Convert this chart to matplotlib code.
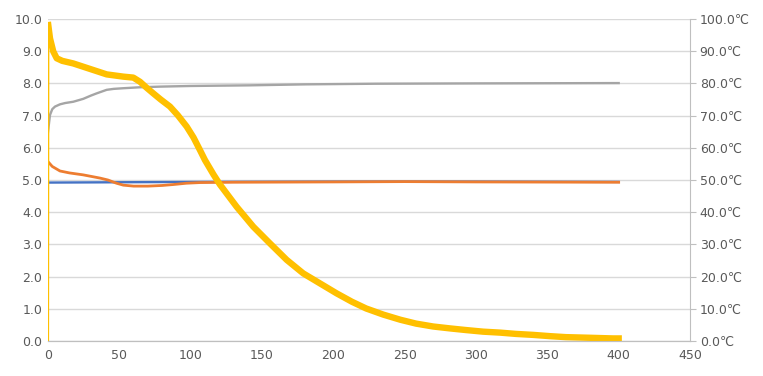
import matplotlib
matplotlib.use("Agg")
import matplotlib.pyplot as plt

# series
blue_x = [0, 50, 100, 200, 300, 400]
blue_y = [4.92, 4.93, 4.94, 4.95, 4.95, 4.94]

orange_x = [0, 3, 8.4, 15, 24.6, 36.4, 42, 48, 52.8, 60, 70, 80, 88, 97, 106.5, 130, 200, 250, 300, 400]
orange_y = [5.57, 5.42, 5.28, 5.22, 5.16, 5.06, 5.0, 4.9, 4.84, 4.81, 4.81, 4.83, 4.86, 4.9, 4.92, 4.93, 4.94, 4.95, 4.94, 4.93]

# gray series is the temperature (right axis, degC)
gray_x = [0, 1.4, 3, 4.9, 8.4, 12, 17.7, 24.7, 30, 34.1, 41.1, 46, 52.8, 64.5, 78.5, 100, 141.5, 180, 230, 300, 400]
gray_c = [65.0, 70.2, 72.0, 72.8, 73.5, 73.9, 74.3, 75.2, 76.2, 76.9, 78.0, 78.3, 78.5, 78.8, 79.0, 79.2, 79.4, 79.7, 79.9, 80.0, 80.1]

yellow_x = [0, 0.2, 1.4, 3.7, 6.1, 10, 17.7, 29.4, 41.1, 52.8, 59.8, 64.5, 69, 73.8, 79, 85.5, 91, 97.2, 102, 106.5,
            110, 116, 120.5, 132.2, 143.9, 155.6, 167.3, 178.9, 190.6, 202.3, 213, 223, 235, 247, 258, 270, 282,
            293, 305, 317, 328, 340, 352, 363, 380, 396, 400]
yellow_y = [0, 9.81, 9.4, 8.99, 8.78, 8.7, 8.62, 8.45, 8.28, 8.21, 8.18, 8.05, 7.87, 7.69, 7.5, 7.28, 7.01, 6.66, 6.32, 5.93,
            5.62, 5.17, 4.86, 4.17, 3.55, 3.03, 2.52, 2.10, 1.79, 1.48, 1.22, 1.01, 0.82, 0.66, 0.54, 0.45, 0.39,
            0.34, 0.29, 0.26, 0.22, 0.19, 0.15, 0.12, 0.10, 0.08, 0.08]

x_ticks = list(range(0, 451, 50))
left_ticks = [i * 1.0 for i in range(11)]
right_ticks = [i * 10.0 for i in range(11)]

txt = "#595959"
grid = "#d9d9d9"

fig = plt.figure(figsize=(7.63, 3.76), dpi=100)
ax = fig.add_axes([48 / 763, 1 - 341 / 376, (690 - 48) / 763, (341 - 19) / 376])
ax2 = ax.twinx()
ax.set_zorder(ax2.get_zorder() + 1)
ax.patch.set_visible(False)

ax2.plot(gray_x, gray_c, color="#A5A5A5", lw=1.7)
ax.plot(blue_x, blue_y, color="#4472C4", lw=1.7)
ax.plot(orange_x, orange_y, color="#ED7D31", lw=2.0)
# thin line for the whole series, wide band for the noisy part
ax.plot(yellow_x, yellow_y, color="#FFC000", lw=1.6)
ax.plot(yellow_x[1:], yellow_y[1:], color="#FFC000", lw=4.6, solid_joinstyle="round")

ax.set_xlim(0, 450)
ax.set_ylim(0, 10)
ax2.set_ylim(0, 100)
ax.set_xticks(x_ticks)
ax.set_yticks(left_ticks)
ax.set_yticklabels([f"{v:.1f}" for v in left_ticks])
ax2.set_yticks(right_ticks)
ax2.set_yticklabels([f"{v:.1f}\u2103" for v in right_ticks])

ax2.yaxis.grid(True, color=grid, lw=1)
ax2.set_axisbelow(True)

for a in (ax, ax2):
    for s in ("top", "left", "right"):
        a.spines[s].set_visible(False)
    a.spines["bottom"].set_color("#bfbfbf")
ax2.spines["right"].set_visible(True)
ax2.spines["right"].set_color("#bfbfbf")

ax.tick_params(axis="x", length=0, colors=txt, labelsize=9, pad=6)
ax.tick_params(axis="y", length=0, colors=txt, labelsize=9, pad=4)
ax2.tick_params(axis="y", length=4, color="#bfbfbf", labelcolor=txt, labelsize=9, pad=3)

fig.savefig("out.png", dpi=100)
